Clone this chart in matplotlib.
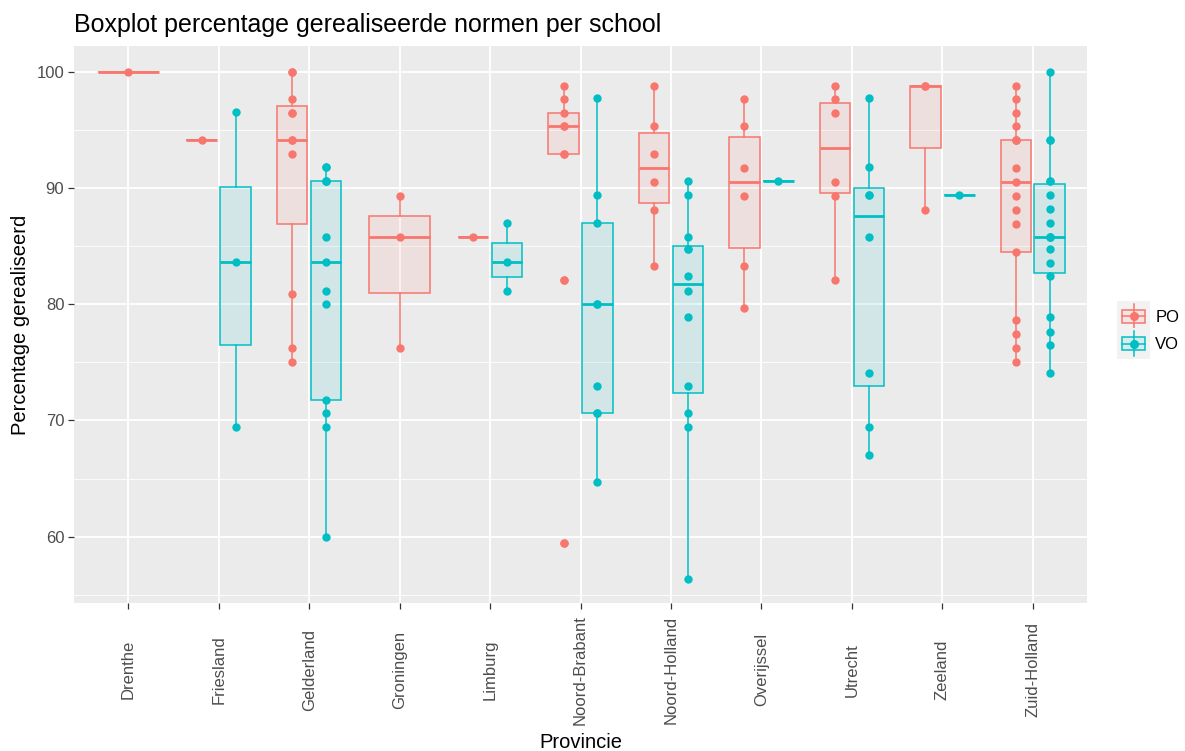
import numpy as np
import matplotlib
matplotlib.use('Agg')
import matplotlib.pyplot as plt
from matplotlib.lines import Line2D
from matplotlib.patches import Rectangle
from matplotlib.legend_handler import HandlerBase

plt.rcParams['font.family'] = ['Liberation Sans', 'DejaVu Sans']

provinces = ['Drenthe', 'Friesland', 'Gelderland', 'Groningen', 'Limburg', 'Noord-Brabant',
             'Noord-Holland', 'Overijssel', 'Utrecht', 'Zeeland', 'Zuid-Holland']

# percentage gerealiseerde normen per school
po = {
    'Drenthe': [100.0],
    'Friesland': [94.1],
    'Gelderland': [75.0, 76.2, 80.9, 92.9, 94.1, 94.1, 96.4, 96.4, 97.6, 100.0, 100.0],
    'Groningen': [76.2, 85.8, 89.3],
    'Limburg': [85.8],
    'Noord-Brabant': [59.5, 82.1, 92.9, 92.9, 95.3, 95.3, 96.4, 97.6, 98.8],
    'Noord-Holland': [83.3, 88.1, 90.5, 92.9, 95.3, 98.8],
    'Overijssel': [79.7, 83.3, 89.3, 91.7, 95.3, 97.6],
    'Utrecht': [82.1, 89.3, 90.5, 96.4, 97.6, 98.8],
    'Zeeland': [88.1, 98.8, 98.8],
    'Zuid-Holland': [75.0, 76.2, 77.4, 78.6, 84.5, 86.9, 88.1, 89.3, 90.5, 91.7,
                     94.1, 94.1, 94.1, 95.3, 96.4, 97.6, 98.8],
}
vo = {
    'Friesland': [69.4, 83.6, 96.5],
    'Gelderland': [60.0, 69.4, 70.6, 71.8, 80.0, 81.1, 83.6, 85.8, 90.6, 90.6, 90.6, 91.8, 91.8],
    'Limburg': [81.1, 83.6, 87.0],
    'Noord-Brabant': [64.7, 70.6, 70.6, 73.0, 80.0, 80.0, 87.0, 89.4, 97.7],
    'Noord-Holland': [56.4, 69.4, 70.6, 73.0, 78.9, 81.1, 82.4, 84.7, 84.7, 85.8, 89.4, 90.6],
    'Overijssel': [90.6],
    'Utrecht': [67.0, 69.4, 74.1, 85.8, 89.4, 89.4, 91.8, 97.7],
    'Zeeland': [89.4],
    'Zuid-Holland': [74.1, 76.5, 77.6, 78.9, 82.4, 83.5, 84.7, 85.8, 85.8, 85.8, 87.0,
                     88.2, 89.4, 90.6, 90.6, 94.1, 94.1, 100.0],
}

groups = ['PO', 'VO']
colors = {'PO': '#F8766D', 'VO': '#00BFC4'}
data = {'PO': po, 'VO': vo}

fig = plt.figure(figsize=(11.85, 7.51), dpi=100)
ax = fig.add_axes([74 / 1185, 1 - 603 / 751, (1087 - 74) / 1185, (603 - 46) / 751])
ax.set_facecolor('#EBEBEB')

for i, prov in enumerate(provinces):
    present = [g for g in groups if prov in data[g]]
    n = len(present)
    for j, g in enumerate(present):
        if n == 2:
            pos, w = i + (j - 0.5) * 0.375, 0.375 * 0.9
        else:
            pos, w = i, 0.675
        vals = data[g][prov]
        c = colors[g]
        ax.boxplot([vals], positions=[pos], widths=w, whis=1.5, patch_artist=True,
                   showcaps=False, manage_ticks=False, zorder=3,
                   boxprops=dict(facecolor=matplotlib.colors.to_rgba(c, 0.1), edgecolor=c, lw=1.1),
                   whiskerprops=dict(color=c, lw=1.1),
                   medianprops=dict(color=c, lw=2.0),
                   flierprops=dict(marker='o', markerfacecolor=c, markeredgecolor=c, markersize=5))
        ax.plot(np.full(len(vals), pos), vals, 'o', color=c, ms=5, mec=c, zorder=4)

ax.set_xlim(-0.6, len(provinces) - 0.4)
ax.set_ylim(54.3, 102.2)
ax.set_xticks(range(len(provinces)))
ax.set_xticklabels(provinces, rotation=90, va='center')
ax.set_yticks([60, 70, 80, 90, 100])
ax.set_yticks([55, 65, 75, 85, 95], minor=True)
ax.grid(True, which='major', color='white', lw=1.3, zorder=0)
ax.grid(True, which='minor', axis='y', color='white', lw=0.6, zorder=0)
ax.set_axisbelow(True)
for s in ax.spines.values():
    s.set_visible(False)
ax.tick_params(axis='both', which='major', length=4, width=0.9, color='#333333',
               labelcolor='#4D4D4D', labelsize=12)
ax.tick_params(axis='x', pad=44)
ax.tick_params(axis='y', pad=3)
ax.tick_params(which='minor', length=0)

ax.set_xlabel('Provincie', fontsize=14.5, va='baseline')
ax.xaxis.set_label_coords(0.5, -(748 - 603) / 557)
ax.set_ylabel('Percentage gerealiseerd', fontsize=14.5, va='center')
ax.yaxis.set_label_coords(-(74 - 21) / 1013, 0.5)

fig.text(74 / 1185, 1 - 32 / 751, 'Boxplot percentage gerealiseerde normen per school',
         fontsize=18, va='baseline', ha='left')


class BoxKey(HandlerBase):
    def create_artists(self, legend, orig, xd, yd, w, h, fs, trans):
        c = orig.get_color()
        x0, y0 = -xd, -yd
        bg = Rectangle((x0 - 3, y0 - 2), w + 6, h + 4, fc='#F2F2F2', ec='none', transform=trans)
        wl = Line2D([x0 + w / 2] * 2, [y0, y0 + h], color=c, lw=1.1, transform=trans)
        box = Rectangle((x0 + 0.05 * w, y0 + 0.24 * h), 0.9 * w, 0.52 * h,
                        fc=matplotlib.colors.to_rgba(c, 0.1), ec=c, lw=1.1, transform=trans)
        med = Line2D([x0 + 0.05 * w, x0 + 0.95 * w], [y0 + h / 2] * 2, color=c, lw=1.1,
                     transform=trans)
        dot = Line2D([x0 + w / 2], [y0 + h / 2], marker='o', ms=5.5, color=c, transform=trans)
        return [bg, wl, box, med, dot]


handles = [Line2D([], [], color=colors[g]) for g in groups]
fig.legend(handles, groups, handler_map={Line2D: BoxKey()}, loc='center left',
           bbox_to_anchor=(1121 / 1185, 1 - 330 / 751), frameon=False, fontsize=12,
           handlelength=1.5, handleheight=1.95, labelspacing=0.12, handletextpad=0.55,
           borderpad=0, borderaxespad=0)

fig.savefig('out.png', dpi=100)
